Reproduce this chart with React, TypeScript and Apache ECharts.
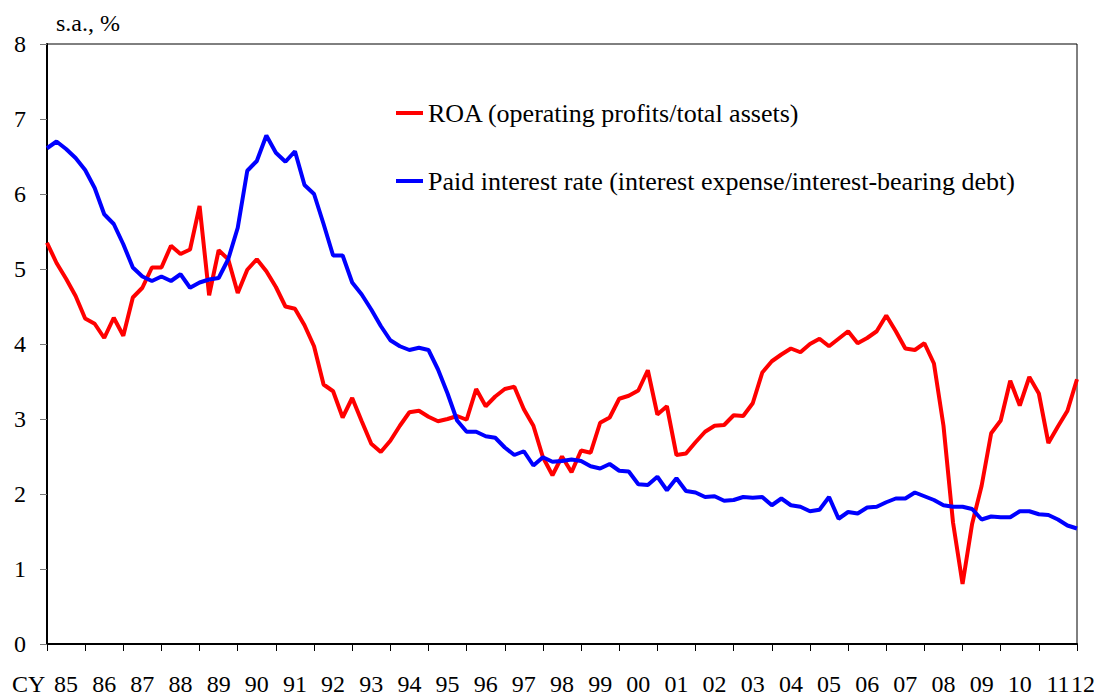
import React, { useEffect, useRef } from "react";
import * as echarts from "echarts";

const yearLabels = ["85","86","87","88","89","90","91","92","93","94","95","96","97","98","99","00","01","02","03","04","05","06","07","08","09","10","11","12"];

const quarters: string[] = [];
for (let y = 0; y < yearLabels.length - 1; y++) {
  for (let q = 1; q <= 4; q++) quarters.push(`${yearLabels[y]}Q${q}`);
}
quarters.push(`${yearLabels[yearLabels.length - 1]}Q1`);

const roa = [
  5.35, 5.08, 4.87, 4.64, 4.34, 4.27, 4.08, 4.35, 4.11, 4.62,
  4.75, 5.02, 5.02, 5.31, 5.20, 5.26, 5.84, 4.65, 5.25, 5.13,
  4.68, 4.99, 5.13, 4.97, 4.76, 4.50, 4.47, 4.25, 3.97, 3.46,
  3.37, 3.02, 3.28, 2.97, 2.67, 2.56, 2.71, 2.91, 3.09, 3.11,
  3.03, 2.97, 3.00, 3.04, 2.99, 3.40, 3.17, 3.30, 3.40, 3.43,
  3.13, 2.91, 2.49, 2.25, 2.50, 2.29, 2.58, 2.55, 2.95, 3.02,
  3.27, 3.31, 3.38, 3.65, 3.06, 3.17, 2.52, 2.54, 2.69, 2.83,
  2.91, 2.92, 3.05, 3.04, 3.21, 3.62, 3.77, 3.86, 3.94, 3.89,
  4.00, 4.07, 3.97, 4.07, 4.17, 4.01, 4.08, 4.17, 4.38, 4.17,
  3.94, 3.92, 4.01, 3.74, 2.91, 1.62, 0.80, 1.60, 2.11, 2.81,
  2.98, 3.51, 3.18, 3.56, 3.34, 2.68, 2.90, 3.11, 3.53,
];

const paidRate = [
  6.61, 6.70, 6.60, 6.48, 6.32, 6.08, 5.73, 5.60, 5.33, 5.02,
  4.90, 4.84, 4.90, 4.84, 4.93, 4.75, 4.82, 4.86, 4.88, 5.13,
  5.55, 6.31, 6.44, 6.78, 6.55, 6.43, 6.57, 6.12, 6.00, 5.60,
  5.18, 5.18, 4.82, 4.66, 4.46, 4.24, 4.05, 3.97, 3.92, 3.95,
  3.92, 3.66, 3.34, 2.98, 2.83, 2.83, 2.77, 2.75, 2.62, 2.52,
  2.57, 2.38, 2.49, 2.43, 2.44, 2.46, 2.44, 2.37, 2.34, 2.40,
  2.31, 2.30, 2.13, 2.12, 2.23, 2.05, 2.21, 2.04, 2.02, 1.96,
  1.97, 1.91, 1.92, 1.96, 1.95, 1.96, 1.85, 1.94, 1.85, 1.83,
  1.77, 1.79, 1.96, 1.67, 1.76, 1.74, 1.82, 1.83, 1.89, 1.94,
  1.94, 2.02, 1.97, 1.92, 1.85, 1.83, 1.83, 1.80, 1.66, 1.70,
  1.69, 1.69, 1.77, 1.77, 1.73, 1.72, 1.66, 1.58, 1.54,
];

const seriesNames = [
  "ROA (operating profits/total assets)",
  "Paid interest rate (interest expense/interest-bearing debt)",
];

const FONT = "'Liberation Serif', 'Times New Roman', serif";

export default function App() {
  const ref = useRef<HTMLDivElement>(null);
  useEffect(() => {
    if (!ref.current) return;
    const chart = echarts.init(ref.current, null, { renderer: "svg" });
    const last = quarters.length - 1;
    chart.setOption({
      animation: false,
      backgroundColor: "#ffffff",
      textStyle: { fontFamily: FONT },
      title: {
        text: "s.a., %",
        left: 51,
        top: 6,
        textStyle: { fontFamily: FONT, fontSize: 24, fontWeight: "normal", color: "#000" },
      },
      legend: {
        orient: "vertical",
        left: 391,
        top: 95,
        itemGap: 42,
        itemWidth: 27,
        itemHeight: 4,
        icon: "rect",
        textStyle: { fontFamily: FONT, fontSize: 26, color: "#000" },
        data: seriesNames,
      },
      grid: {
        left: 47,
        right: 17,
        top: 44,
        bottom: 52,
        show: true,
        borderColor: "#000",
        borderWidth: 1,
        outerBoundsMode: "none",
      },
      graphic: [
        {
          type: "text",
          left: 12,
          top: 672,
          style: { text: "CY", font: `24px ${FONT}`, fill: "#000" },
        },
        {
          type: "text",
          left: 1071,
          top: 672,
          style: { text: yearLabels[yearLabels.length - 1], font: `24px ${FONT}`, fill: "#000" },
        },
      ],
      xAxis: {
        type: "category",
        data: quarters,
        boundaryGap: false,
        axisLine: { show: true, lineStyle: { color: "#000", width: 2 } },
        axisTick: {
          show: true,
          length: 7,
          interval: (index: number) => index % 4 === 0,
          lineStyle: { color: "#000", width: 1 },
        },
        axisLabel: {
          interval: (index: number) => index % 4 === 2 && index !== last,
          formatter: (value: string) => value.slice(0, 2),
          fontFamily: FONT,
          fontSize: 24,
          color: "#000",
          margin: 28,
          hideOverlap: false,
        },
        splitLine: { show: false },
      },
      yAxis: {
        type: "value",
        min: 0,
        max: 8,
        interval: 1,
        axisLine: { show: true, lineStyle: { color: "#000", width: 2 } },
        axisTick: { show: true, length: 7, lineStyle: { color: "#777", width: 1 } },
        axisLabel: { fontFamily: FONT, fontSize: 24, color: "#000", margin: 21 },
        splitLine: { show: false },
      },
      series: [
        {
          name: seriesNames[0],
          type: "line",
          data: roa,
          symbol: "none",
          lineStyle: { color: "#ff0000", width: 4 },
          itemStyle: { color: "#ff0000" },
        },
        {
          name: seriesNames[1],
          type: "line",
          data: paidRate,
          symbol: "none",
          lineStyle: { color: "#0000ff", width: 4 },
          itemStyle: { color: "#0000ff" },
        },
      ],
    });
    return () => chart.dispose();
  }, []);
  return (
    <div
      ref={ref}
      style={{ position: "fixed", left: 0, top: 0, width: 1094, height: 696, background: "#fff" }}
    />
  );
}
